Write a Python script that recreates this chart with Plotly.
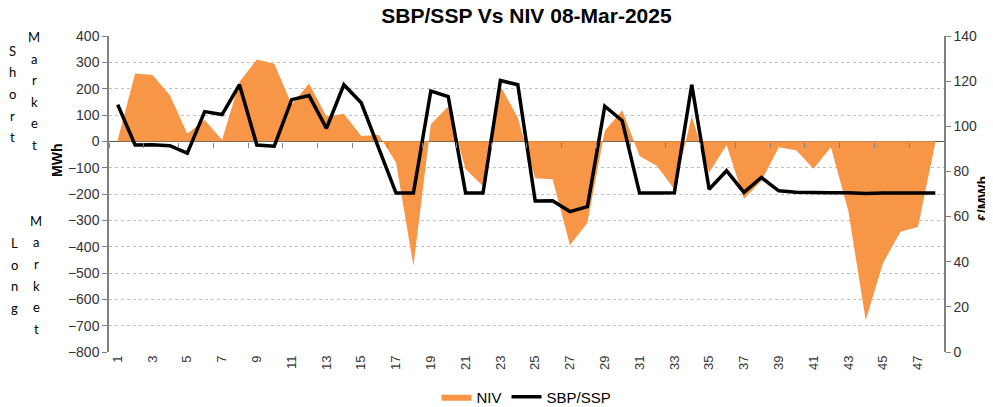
import plotly.graph_objects as go

periods = list(range(1, 49))
niv = [5, 258, 252, 175, 29, 81, 5, 225, 311, 295, 140, 220, 94, 105, 20, 25,
       -80, -473, 65, 132, -106, -170, 210, 90, -140, -144, -395, -309, 39, 118,
       -56, -94, -182, 96, -119, -14, -218, -151, -22, -34, -104, -22, -265, -679,
       -461, -343, -325, -5]
price = [109.6, 91.7, 91.8, 91.4, 88.1, 106.5, 105.2, 118.4, 91.7, 91.2, 111.8, 113.6,
         99.1, 118.4, 110.4, 90.0, 70.4, 70.4, 115.6, 113.2, 70.4, 70.4, 120.3, 118.4,
         66.9, 67.0, 62.2, 64.4, 108.9, 102.5, 70.4, 70.4, 70.5, 118.4, 72.1, 80.3,
         70.7, 77.3, 71.4, 70.8, 70.6, 70.6, 70.6, 70.2, 70.4, 70.4, 70.4, 70.4]
x_ticks = [str(p) for p in range(1, 48, 2)]
title = "SBP/SSP Vs NIV 08-Mar-2025"

OFF = 8  # page body margin
W, H = 993 - OFF, 407 - OFF
# plot area in page pixels
L, R, T, B = 109, 944, 36, 352


def px(x):
    return (x - L) / (R - L)


def py(y):
    return (B - y) / (B - T)


fig = go.Figure()
fig.add_trace(go.Scatter(
    x=periods, y=niv, name="NIV", mode="lines", fill="tozeroy",
    line=dict(width=0, color="#F79646"), fillcolor="#F79646"))
fig.add_trace(go.Scatter(
    x=periods, y=price, name="SBP/SSP", mode="lines", yaxis="y2",
    line=dict(width=3.5, color="#000000")))
# invisible trace to carry the zero-line tick marks axis
fig.add_trace(go.Scatter(x=[periods[0]], y=[0], xaxis="x2", mode="markers",
                         marker=dict(opacity=0), showlegend=False, hoverinfo="skip"))

fam = "Liberation Sans, Arial"

fig.update_layout(
    width=W, height=H,
    margin=dict(l=L - OFF, r=993 - R, t=T - OFF, b=407 - B, autoexpand=False),
    plot_bgcolor="white", paper_bgcolor="white",
    title=dict(text="<b>" + title + "</b>", x=(0.5 * (L + R) - OFF) / W, xref="container",
               xanchor="center", y=1 - (16 - OFF) / H, yanchor="middle",
               font=dict(family=fam, size=21, color="#000000")),
    xaxis=dict(range=[0.5, 48.5], tickmode="array",
               tickvals=list(range(1, 48, 2)), ticktext=x_ticks, tickangle=-90,
               showgrid=False, zeroline=False, showline=False, ticks="",
               tickfont=dict(family=fam, size=13, color="#333333")),
    xaxis2=dict(range=[0.5, 48.5], overlaying="x", anchor="free", position=py(142),
                tickmode="array", tickvals=[0.5 + 2 * i for i in range(25)],
                ticks="outside", ticklen=5, tickcolor="#808080",
                showticklabels=False, showgrid=False, zeroline=False, showline=False),
    yaxis=dict(range=[-800, 400], dtick=100, showgrid=True, gridcolor="#BFBFBF",
               griddash="dot", gridwidth=1, zeroline=True, zerolinecolor="#595959",
               zerolinewidth=1.2, showline=True, linecolor="#808080", linewidth=1.5,
               ticks="outside", ticklen=5, tickcolor="#808080",
               tickfont=dict(family=fam, size=14, color="#333333")),
    yaxis2=dict(range=[0, 140], dtick=20, overlaying="y", side="right",
                showgrid=False, zeroline=False, showline=True, linecolor="#808080",
                linewidth=1.5, ticks="outside", ticklen=5, tickcolor="#808080",
                tickfont=dict(family=fam, size=14, color="#333333")),
    legend=dict(orientation="h", x=px(0.5 * (L + R)), xanchor="center",
                y=py(397), yanchor="middle",
                font=dict(family=fam, size=15, color="#000000"),
                itemwidth=30, bgcolor="rgba(0,0,0,0)"),
    showlegend=True,
)

ann = []
ann.append(dict(text="<b>MWh</b>", x=px(57), y=py(161), xref="paper", yref="paper",
                showarrow=False, textangle=-90, xanchor="center", yanchor="middle",
                font=dict(family=fam, size=14, color="#000000")))
ann.append(dict(text="<b>£/MWh</b>", x=px(983), y=py(198), xref="paper", yref="paper",
                showarrow=False, textangle=-90, xanchor="center", yanchor="middle",
                font=dict(family=fam, size=14, color="#000000")))

side_font = dict(family="Lato, Open Sans", size=13, color="#000000")


def vertical_word(word, xc, y0, step=21.5):
    for i, ch in enumerate(word):
        ann.append(dict(text=ch, x=px(xc), y=py(y0 + i * step), xref="paper", yref="paper",
                        showarrow=False, xanchor="center", yanchor="middle", font=side_font))


vertical_word("Short", 12.5, 51)
vertical_word("Market", 34, 37)
vertical_word("Long", 14, 243)
vertical_word("Market", 36, 221)

fig.update_layout(annotations=ann)
fig.write_html("out.html")
